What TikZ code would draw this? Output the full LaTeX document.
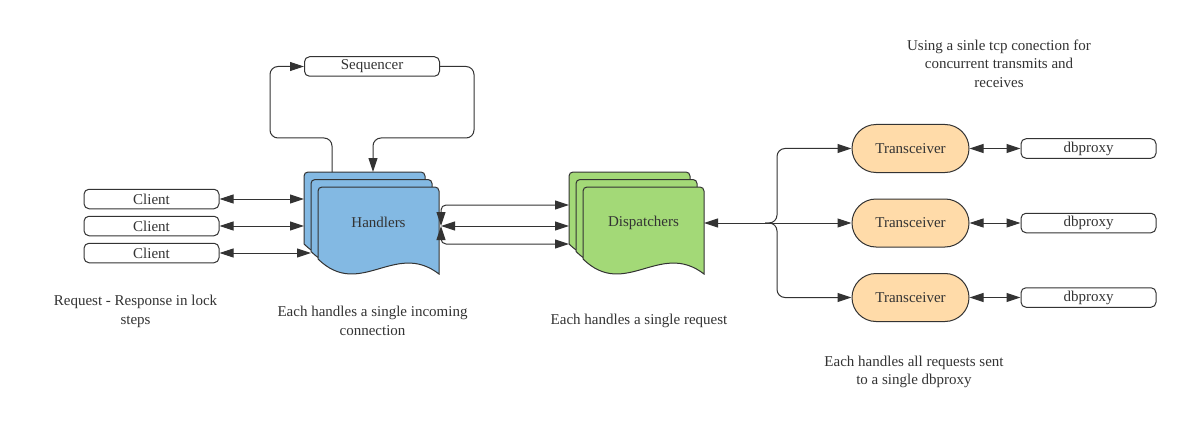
\documentclass[tikz,border=0pt]{standalone}
\usepackage{fontspec}
\setmainfont{Liberation Serif}
\usetikzlibrary{arrows.meta}

\definecolor{handblue}{RGB}{131,185,227}
\definecolor{dispgreen}{RGB}{163,217,119}
\definecolor{transorange}{RGB}{255,219,169}
\definecolor{ink}{RGB}{51,51,51}

% one page of a document stack, top left corner at (#1,#2)
\newcommand{\docpage}[3]{%
  \draw[fill=#3] (#1,#2+72) -- (#1,#2+4) arc[start angle=180,end angle=270,radius=4]
    -- (#1+117,#2) arc[start angle=270,end angle=360,radius=4]
    -- (#1+121,#2+87) .. controls (#1+77,#2+53) and (#1+42,#2+113) .. (#1,#2+72) -- cycle;}

\begin{document}
\begin{tikzpicture}[x=1pt,y=-1pt,line width=1pt,color=ink,
  font=\fontsize{15}{18.5}\selectfont,
  >={Triangle[length=14pt,width=9pt]},
  box/.style={draw,rounded corners=5pt,minimum height=19.5pt,minimum width=135pt,inner sep=0pt},
  pill/.style={draw,fill=transorange,rounded corners=24pt,minimum width=117pt,minimum height=48pt,inner sep=0pt},
  note/.style={align=center}]
\fill[white] (0,0) rectangle (1191,433);
\useasboundingbox (0,0) rectangle (1191,433);

\node[box] (seq) at (372,66.5) {Sequencer};
\node[box] (cl1) at (151.5,199) {Client};
\node[box] (cl2) at (151.5,226) {Client};
\node[box] (cl3) at (151.5,253) {Client};

\docpage{304}{172}{handblue}
\docpage{311}{179.5}{handblue}
\docpage{318}{187}{handblue}
\node (hand) at (378.5,222) {Handlers};

\docpage{569}{172}{dispgreen}
\docpage{576}{179.5}{dispgreen}
\docpage{583}{187}{dispgreen}
\node (disp) at (643.5,222.5) {Dispatchers};

\coordinate (hin1) at (304,199);
\coordinate (hin2) at (304,226);
\coordinate (hin3) at (311,253);
\coordinate (hup) at (332,172);
\coordinate (hdown) at (373,172);
\coordinate (hout) at (441,226);
\coordinate (din1) at (569,205);
\coordinate (din2) at (569,226);
\coordinate (din3) at (569,244);
\coordinate (dout) at (704,223);
\coordinate (split) at (765,223);

\node[pill] (tr1) at (910.5,148.5) {Transceiver};
\node[pill] (tr2) at (910.5,223) {Transceiver};
\node[pill] (tr3) at (910.5,297.5) {Transceiver};
\node[box] (db1) at (1088.5,148.5) {dbproxy};
\node[box] (db2) at (1088.5,223) {dbproxy};
\node[box] (db3) at (1088.5,297.5) {dbproxy};

\draw[<->] (cl1.east) -- (hin1);
\draw[<->] (cl2.east) -- (hin2);
\draw[<->] (cl3.east) -- (hin3);
\draw[->,rounded corners=8pt] (hup) -- (332,138) -- (270,138) -- (270,66.5) -- (seq.west);
\draw[->,rounded corners=8pt] (seq.east) -- (474,66.5) -- (474,138) -- (373,138) -- (hdown);
\draw[<->,rounded corners=5pt] (hout) -- (441,205) -- (din1);
\draw[<->] (hout) -- (din2);
\draw[<->,rounded corners=5pt] (hout) -- (441,244) -- (din3);
\draw[<->] (dout) -- (tr2.west);
\draw[->,rounded corners=8pt] (split) -- (777,223) -- (777,148.5) -- (tr1.west);
\draw[->,rounded corners=8pt] (split) -- (777,223) -- (777,297.5) -- (tr3.west);
\draw[<->] (tr1.east) -- (db1.west);
\draw[<->] (tr2.east) -- (db2.west);
\draw[<->] (tr3.east) -- (db3.west);

\node[note] (tcpnote) at (999,63.5) {Using a sinle tcp conection for\\concurrent transmits and\\receives};
\node[note] (locknote) at (135.5,311.5) {Request - Response in lock\\steps};
\node[note] (connnote) at (372.5,321) {Each handles a single incoming\\connection};
\node[note] (reqnote) at (639,321) {Each handles a single request};
\node[note] (proxynote) at (914,372) {Each handles all requests sent\\to a single dbproxy};
\end{tikzpicture}
\end{document}
